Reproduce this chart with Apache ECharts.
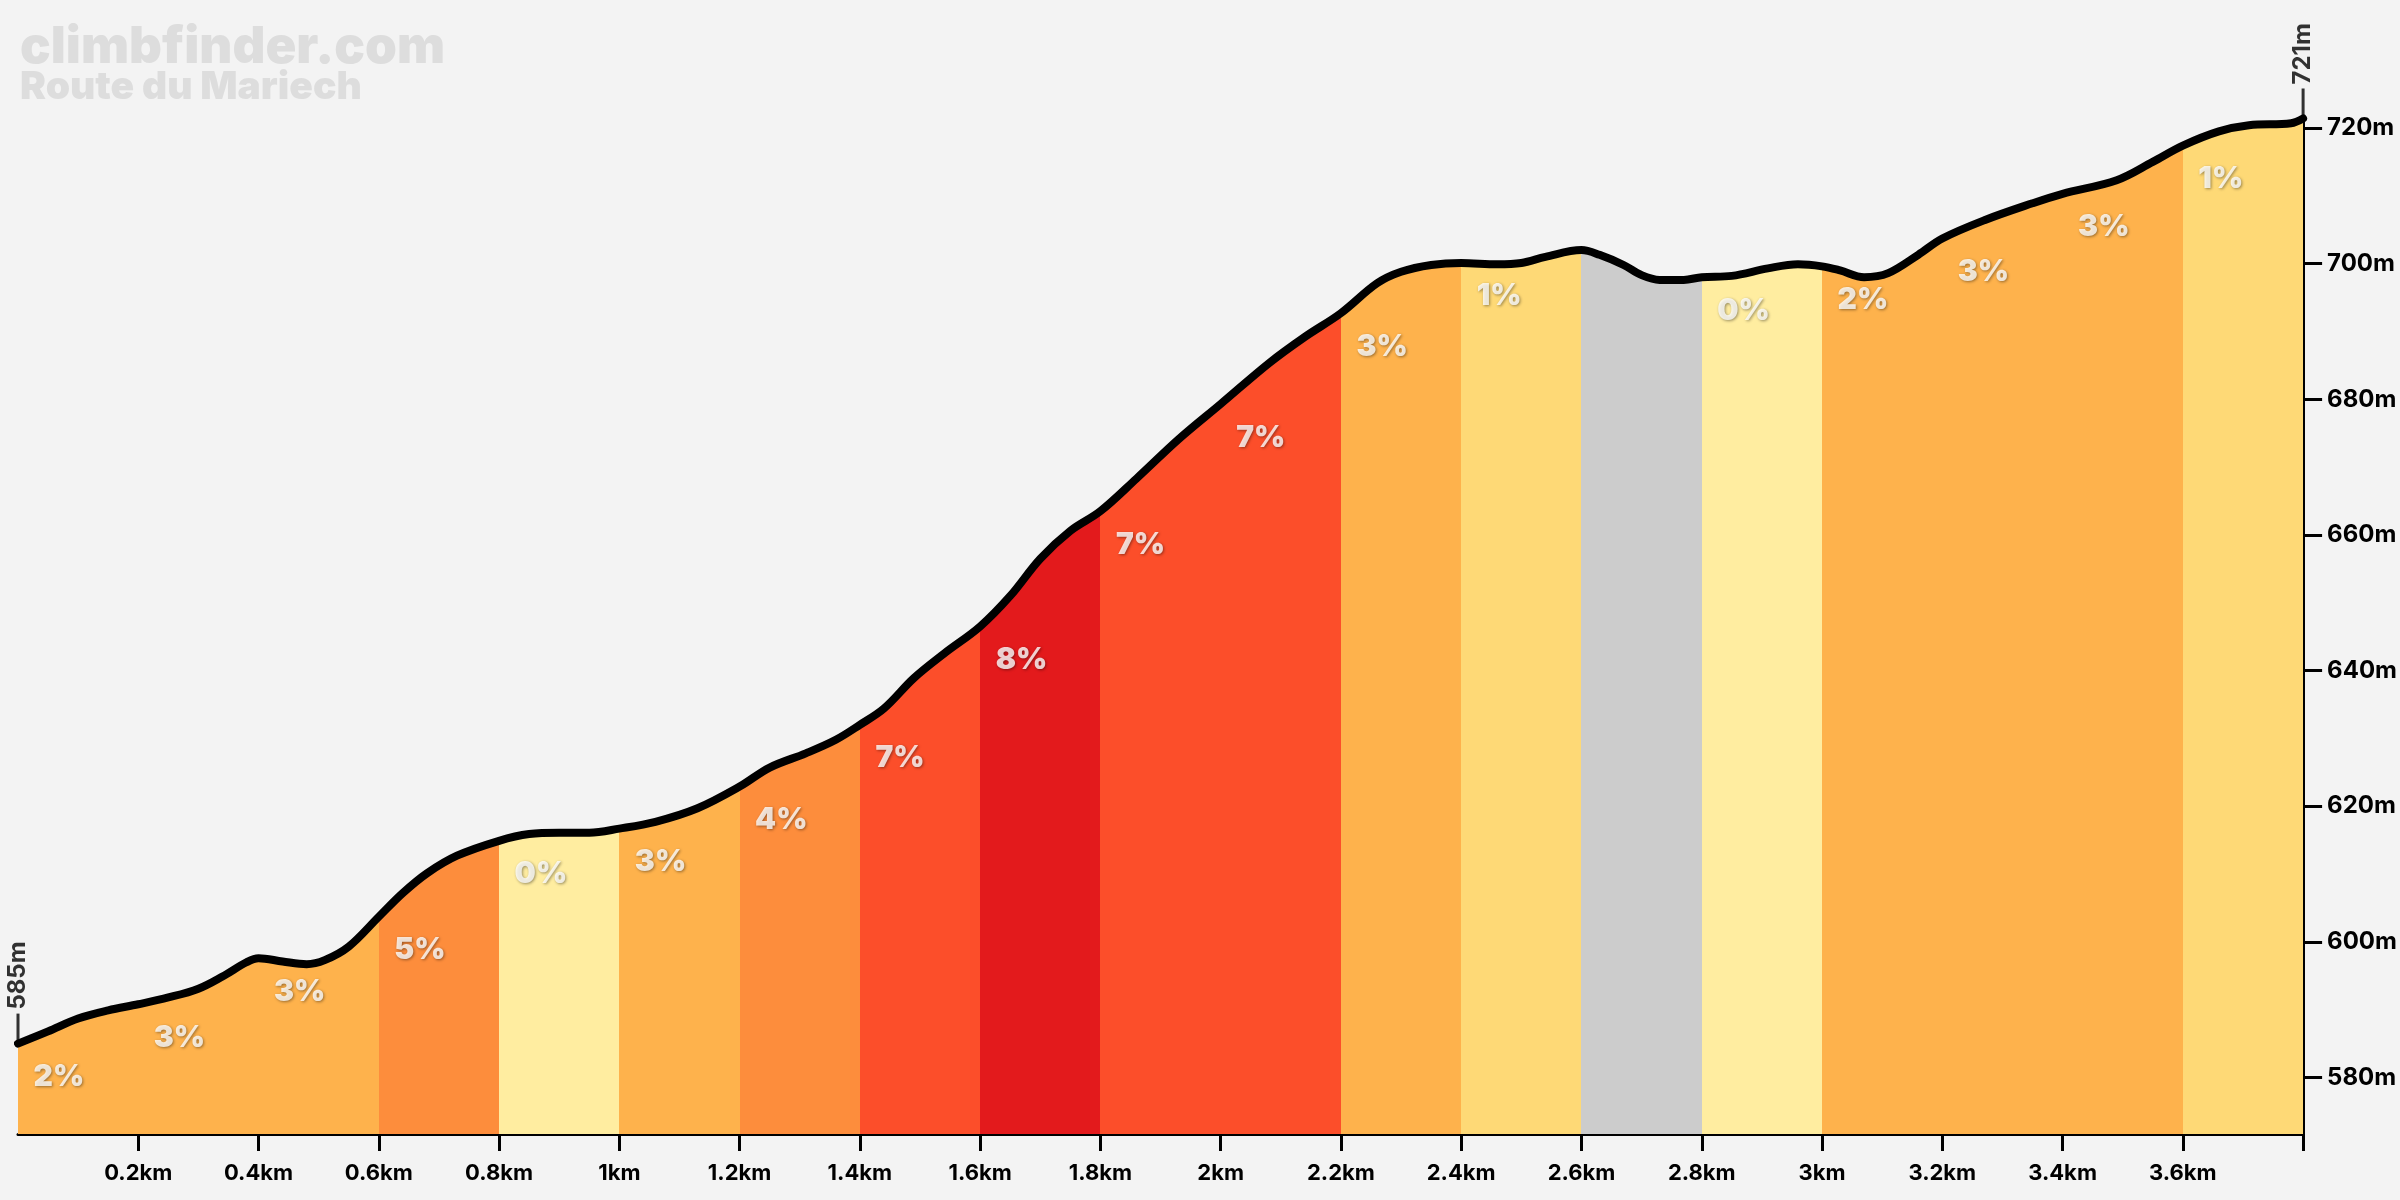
<!DOCTYPE html>
<html>
<head>
<meta charset="utf-8">
<script src="https://cdn.jsdelivr.net/npm/echarts@6/dist/echarts.min.js"></script>
<style>
  html, body { margin: 0; padding: 0; background: #f3f3f3; }
  #chart { width: 2400px; height: 1200px; }
</style>
</head>
<body>
<div id="chart"></div>
<script>
// elevation profile (km, m)
const distKm = [
  0, 0.05, 0.1, 0.15, 0.2, 0.25, 0.3, 0.34, 0.38, 0.4, 0.44, 0.48, 0.51, 0.55,
  0.6, 0.64, 0.68, 0.73, 0.8, 0.85, 0.9, 0.95, 1, 1.06, 1.13, 1.2, 1.25, 1.31,
  1.36, 1.4, 1.44, 1.49, 1.54, 1.6, 1.65, 1.7, 1.75, 1.8, 1.86,
  1.93, 2, 2.08, 2.14, 2.2, 2.26, 2.3, 2.35, 2.4, 2.46, 2.5, 2.54, 2.6, 2.63,
  2.67, 2.7, 2.73, 2.77, 2.8, 2.85, 2.91, 2.96, 3, 3.03, 3.07, 3.11, 3.16, 3.2,
  3.27, 3.35, 3.4, 3.49, 3.55, 3.6, 3.66, 3.71, 3.78, 3.8
];
const elevM = [
  585.0, 586.8, 588.7, 589.9, 590.8, 591.8, 593.1, 594.9, 597.0, 597.6, 597.1, 596.7, 597.3, 599.3,
  603.7, 607.2, 610.1, 612.7, 614.9, 615.9, 616.1, 616.1, 616.7, 617.7, 619.7, 622.9, 625.7, 627.8,
  629.8, 632.0, 634.4, 638.9, 642.5, 646.5, 651.0, 656.5, 660.6, 663.5, 668.3,
  674.1, 679.3, 685.3, 689.2, 692.7, 697.1, 698.8, 699.8, 700.1, 699.9, 700.1, 701.0, 702.0, 701.3,
  699.8, 698.3, 697.6, 697.6, 698.0, 698.2, 699.3, 699.9, 699.6, 699.0, 698.0, 698.6, 701.3, 703.7,
  706.4, 708.9, 710.3, 712.3, 715.0, 717.4, 719.5, 720.4, 720.7, 721.4
];

// 200 m sections and their gradient (%), negative = descent
const segStartKm = [0, 0.2, 0.4, 0.6, 0.8, 1, 1.2, 1.4, 1.6, 1.8, 2, 2.2, 2.4, 2.6, 2.8, 3, 3.2, 3.4, 3.6];
const segGrade = [2, 3, 3, 5, 0, 3, 4, 7, 8, 7, 7, 3, 1, -2, 0, 2, 3, 3, 1];

const xTickKm = [0.2, 0.4, 0.6, 0.8, 1, 1.2, 1.4, 1.6, 1.8, 2, 2.2, 2.4, 2.6, 2.8, 3, 3.2, 3.4, 3.6, 3.8];
const xLabelKm = [0.2, 0.4, 0.6, 0.8, 1, 1.2, 1.4, 1.6, 1.8, 2, 2.2, 2.4, 2.6, 2.8, 3, 3.2, 3.4, 3.6];
const yTickM = [580, 600, 620, 640, 660, 680, 700, 720];

const FONT = 'Inter, "Noto Sans", sans-serif';

function gradeColor(g) {
  if (g < 0) return '#cccccc';
  if (g < 1) return '#ffeda0';
  if (g < 2) return '#fed976';
  if (g < 4) return '#feb24c';
  if (g < 6) return '#fd8d3c';
  if (g < 8) return '#fc4e2a';
  return '#e31a1c';
}

const endKm = xTickKm[xTickKm.length - 1];
const profile = distKm.map((d, i) => [d, elevM[i]]);

const pieces = segStartKm.map((s, i) => {
  const p = { gte: s, color: gradeColor(segGrade[i]) };
  if (i < segStartKm.length - 1) p.lt = segStartKm[i + 1];
  else p.lte = endKm;
  return p;
});

const gradeLabels = segStartKm
  .map((s, i) => [s, elevM[distKm.indexOf(s)], segGrade[i]])
  .filter(d => d[2] >= 0);

const last = distKm.length - 1;
const markers = [[distKm[0], elevM[0]], [distKm[last], elevM[last]]];

const chart = echarts.init(document.getElementById('chart'));

chart.setOption({
  backgroundColor: '#f3f3f3',
  animation: false,
  graphic: [
    { type: 'text', left: 20, top: 22,
      style: { text: 'climbfinder.com', font: '900 51px ' + FONT, fill: '#dddddd' } },
    { type: 'text', left: 20, top: 68,
      style: { text: 'Route du Mariech', font: '900 39px ' + FONT, fill: '#dddddd' } }
  ],
  grid: { left: 18, right: 91, top: 118.5, bottom: 66 },
  visualMap: {
    show: false,
    type: 'piecewise',
    dimension: 0,
    seriesIndex: 0,
    pieces: pieces
  },
  xAxis: {
    type: 'value',
    min: 0,
    max: endKm,
    axisLine: { onZero: false, lineStyle: { color: '#000', width: 3 } },
    axisTick: { customValues: xTickKm, length: 17, lineStyle: { color: '#000', width: 3 } },
    axisLabel: {
      customValues: xLabelKm,
      formatter: v => (Math.round(v * 10) / 10) + 'km',
      color: '#000', fontSize: 22, fontWeight: 700, fontFamily: FONT, margin: 28
    },
    splitLine: { show: false }
  },
  yAxis: {
    type: 'value',
    position: 'right',
    min: 571.67,
    max: 721.4,
    axisLine: { show: true, onZero: false, lineStyle: { color: '#000', width: 3 } },
    axisTick: { show: true, customValues: yTickM, length: 19, lineStyle: { color: '#000', width: 3 } },
    axisLabel: {
      customValues: yTickM,
      formatter: v => v + 'm',
      color: '#000', fontSize: 24, fontWeight: 700, fontFamily: FONT, margin: 24
    },
    splitLine: { show: false }
  },
  series: [
    {
      type: 'line',
      data: profile,
      smooth: 0.35,
      symbol: 'none',
      clip: false,
      z: 2,
      lineStyle: { color: '#000', width: 8, cap: 'round', join: 'round' },
      areaStyle: { opacity: 1 }
    },
    {
      type: 'scatter',
      data: gradeLabels,
      symbolSize: 1,
      silent: true,
      clip: false,
      z: 3,
      itemStyle: { color: 'rgba(0,0,0,0)' },
      label: {
        show: true,
        position: [16, 19],
        align: 'left',
        verticalAlign: 'top',
        formatter: p => p.value[2] + '%',
        color: '#ffffff',
        fontSize: 30,
        fontWeight: 900,
        fontFamily: FONT,
        textShadowColor: 'rgba(0,0,0,0.5)',
        textShadowBlur: 3,
        textShadowOffsetX: 1,
        textShadowOffsetY: 1
      }
    },
    {
      type: 'scatter',
      data: markers,
      symbol: 'rect',
      symbolSize: [3, 30],
      symbolOffset: [0, -15],
      silent: true,
      clip: false,
      z: 4,
      itemStyle: { color: '#000' },
      label: {
        show: true,
        position: 'top',
        distance: 4,
        rotate: 90,
        align: 'left',
        verticalAlign: 'middle',
        formatter: p => Math.round(p.value[1]) + 'm',
        color: '#000',
        fontSize: 24,
        fontWeight: 700,
        fontFamily: FONT
      }
    }
  ]
});
</script>
</body>
</html>
